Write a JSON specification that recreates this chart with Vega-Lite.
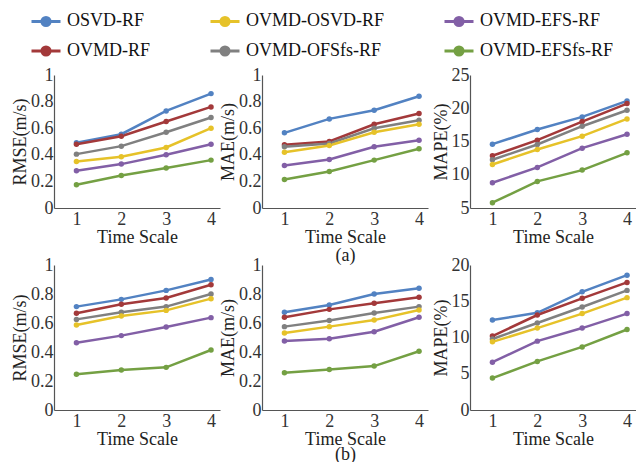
{
  "$schema": "https://vega.github.io/schema/vega-lite/v6.json",
  "padding": {"left": 11, "top": 5, "right": 0, "bottom": 0},
  "bounds": "flush",
  "align": "each",
  "columns": 3,
  "spacing": {"row": 57, "column": 42},
  "config": {
    "view": {"stroke": null},
    "font": "Liberation Serif",
    "axis": {
      "labelFont": "Liberation Serif", "labelFontSize": 18, "labelColor": "#333",
      "titleFont": "Liberation Serif", "titleFontSize": 18, "titleFontWeight": "normal", "titleColor": "#222",
      "domainColor": "#555", "domainWidth": 1.2, "grid": false, "ticks": false,
      "labelFlush": false, "labelPadding": 1, "titlePadding": 1
    },
    "axisX": {"labelPadding": 2, "titlePadding": 0, "titleLineHeight": 18},
    "legend": {"title": null, "orient": "none", "legendX": -24, "legendY": -70, "columns": 3, "direction": "horizontal", "columnPadding": 53, "rowPadding": 3, "padding": 0,
      "symbolType": "M-1,0L1,0M-0.28,0A0.28,0.28,0,1,1,0.28,0A0.28,0.28,0,1,1,-0.28,0Z", "symbolSize": 841, "symbolStrokeWidth": 3,
      "labelFont": "Liberation Serif", "labelFontSize": 18, "labelColor": "#111", "labelOffset": 5}
  },
  "datasets": {
    "d": [
      {"p":"RMSE_a","m":"OSVD-RF","t":1,"v":0.49},{"p":"RMSE_a","m":"OSVD-RF","t":2,"v":0.555},{"p":"RMSE_a","m":"OSVD-RF","t":3,"v":0.73},{"p":"RMSE_a","m":"OSVD-RF","t":4,"v":0.86},
      {"p":"RMSE_a","m":"OVMD-RF","t":1,"v":0.48},{"p":"RMSE_a","m":"OVMD-RF","t":2,"v":0.54},{"p":"RMSE_a","m":"OVMD-RF","t":3,"v":0.65},{"p":"RMSE_a","m":"OVMD-RF","t":4,"v":0.76},
      {"p":"RMSE_a","m":"OVMD-OFSfs-RF","t":1,"v":0.405},{"p":"RMSE_a","m":"OVMD-OFSfs-RF","t":2,"v":0.465},{"p":"RMSE_a","m":"OVMD-OFSfs-RF","t":3,"v":0.57},{"p":"RMSE_a","m":"OVMD-OFSfs-RF","t":4,"v":0.68},
      {"p":"RMSE_a","m":"OVMD-OSVD-RF","t":1,"v":0.35},{"p":"RMSE_a","m":"OVMD-OSVD-RF","t":2,"v":0.385},{"p":"RMSE_a","m":"OVMD-OSVD-RF","t":3,"v":0.455},{"p":"RMSE_a","m":"OVMD-OSVD-RF","t":4,"v":0.6},
      {"p":"RMSE_a","m":"OVMD-EFS-RF","t":1,"v":0.28},{"p":"RMSE_a","m":"OVMD-EFS-RF","t":2,"v":0.33},{"p":"RMSE_a","m":"OVMD-EFS-RF","t":3,"v":0.4},{"p":"RMSE_a","m":"OVMD-EFS-RF","t":4,"v":0.48},
      {"p":"RMSE_a","m":"OVMD-EFSfs-RF","t":1,"v":0.175},{"p":"RMSE_a","m":"OVMD-EFSfs-RF","t":2,"v":0.245},{"p":"RMSE_a","m":"OVMD-EFSfs-RF","t":3,"v":0.3},{"p":"RMSE_a","m":"OVMD-EFSfs-RF","t":4,"v":0.36},

      {"p":"MAE_a","m":"OSVD-RF","t":1,"v":0.565},{"p":"MAE_a","m":"OSVD-RF","t":2,"v":0.67},{"p":"MAE_a","m":"OSVD-RF","t":3,"v":0.735},{"p":"MAE_a","m":"OSVD-RF","t":4,"v":0.84},
      {"p":"MAE_a","m":"OVMD-RF","t":1,"v":0.475},{"p":"MAE_a","m":"OVMD-RF","t":2,"v":0.5},{"p":"MAE_a","m":"OVMD-RF","t":3,"v":0.63},{"p":"MAE_a","m":"OVMD-RF","t":4,"v":0.71},
      {"p":"MAE_a","m":"OVMD-OFSfs-RF","t":1,"v":0.46},{"p":"MAE_a","m":"OVMD-OFSfs-RF","t":2,"v":0.485},{"p":"MAE_a","m":"OVMD-OFSfs-RF","t":3,"v":0.6},{"p":"MAE_a","m":"OVMD-OFSfs-RF","t":4,"v":0.66},
      {"p":"MAE_a","m":"OVMD-OSVD-RF","t":1,"v":0.42},{"p":"MAE_a","m":"OVMD-OSVD-RF","t":2,"v":0.47},{"p":"MAE_a","m":"OVMD-OSVD-RF","t":3,"v":0.57},{"p":"MAE_a","m":"OVMD-OSVD-RF","t":4,"v":0.63},
      {"p":"MAE_a","m":"OVMD-EFS-RF","t":1,"v":0.32},{"p":"MAE_a","m":"OVMD-EFS-RF","t":2,"v":0.365},{"p":"MAE_a","m":"OVMD-EFS-RF","t":3,"v":0.46},{"p":"MAE_a","m":"OVMD-EFS-RF","t":4,"v":0.51},
      {"p":"MAE_a","m":"OVMD-EFSfs-RF","t":1,"v":0.215},{"p":"MAE_a","m":"OVMD-EFSfs-RF","t":2,"v":0.275},{"p":"MAE_a","m":"OVMD-EFSfs-RF","t":3,"v":0.36},{"p":"MAE_a","m":"OVMD-EFSfs-RF","t":4,"v":0.445},

      {"p":"MAPE_a","m":"OSVD-RF","t":1,"v":14.6},{"p":"MAPE_a","m":"OSVD-RF","t":2,"v":16.8},{"p":"MAPE_a","m":"OSVD-RF","t":3,"v":18.7},{"p":"MAPE_a","m":"OSVD-RF","t":4,"v":21.1},
      {"p":"MAPE_a","m":"OVMD-RF","t":1,"v":12.85},{"p":"MAPE_a","m":"OVMD-RF","t":2,"v":15.2},{"p":"MAPE_a","m":"OVMD-RF","t":3,"v":18.0},{"p":"MAPE_a","m":"OVMD-RF","t":4,"v":20.7},
      {"p":"MAPE_a","m":"OVMD-OFSfs-RF","t":1,"v":12.25},{"p":"MAPE_a","m":"OVMD-OFSfs-RF","t":2,"v":14.55},{"p":"MAPE_a","m":"OVMD-OFSfs-RF","t":3,"v":17.3},{"p":"MAPE_a","m":"OVMD-OFSfs-RF","t":4,"v":19.7},
      {"p":"MAPE_a","m":"OVMD-OSVD-RF","t":1,"v":11.55},{"p":"MAPE_a","m":"OVMD-OSVD-RF","t":2,"v":13.8},{"p":"MAPE_a","m":"OVMD-OSVD-RF","t":3,"v":15.8},{"p":"MAPE_a","m":"OVMD-OSVD-RF","t":4,"v":18.4},
      {"p":"MAPE_a","m":"OVMD-EFS-RF","t":1,"v":8.8},{"p":"MAPE_a","m":"OVMD-EFS-RF","t":2,"v":11.1},{"p":"MAPE_a","m":"OVMD-EFS-RF","t":3,"v":14.0},{"p":"MAPE_a","m":"OVMD-EFS-RF","t":4,"v":16.1},
      {"p":"MAPE_a","m":"OVMD-EFSfs-RF","t":1,"v":5.8},{"p":"MAPE_a","m":"OVMD-EFSfs-RF","t":2,"v":9.0},{"p":"MAPE_a","m":"OVMD-EFSfs-RF","t":3,"v":10.7},{"p":"MAPE_a","m":"OVMD-EFSfs-RF","t":4,"v":13.3},

      {"p":"RMSE_b","m":"OSVD-RF","t":1,"v":0.713},{"p":"RMSE_b","m":"OSVD-RF","t":2,"v":0.763},{"p":"RMSE_b","m":"OSVD-RF","t":3,"v":0.825},{"p":"RMSE_b","m":"OSVD-RF","t":4,"v":0.9},
      {"p":"RMSE_b","m":"OVMD-RF","t":1,"v":0.667},{"p":"RMSE_b","m":"OVMD-RF","t":2,"v":0.729},{"p":"RMSE_b","m":"OVMD-RF","t":3,"v":0.772},{"p":"RMSE_b","m":"OVMD-RF","t":4,"v":0.864},
      {"p":"RMSE_b","m":"OVMD-OFSfs-RF","t":1,"v":0.625},{"p":"RMSE_b","m":"OVMD-OFSfs-RF","t":2,"v":0.674},{"p":"RMSE_b","m":"OVMD-OFSfs-RF","t":3,"v":0.713},{"p":"RMSE_b","m":"OVMD-OFSfs-RF","t":4,"v":0.8},
      {"p":"RMSE_b","m":"OVMD-OSVD-RF","t":1,"v":0.586},{"p":"RMSE_b","m":"OVMD-OSVD-RF","t":2,"v":0.648},{"p":"RMSE_b","m":"OVMD-OSVD-RF","t":3,"v":0.687},{"p":"RMSE_b","m":"OVMD-OSVD-RF","t":4,"v":0.768},
      {"p":"RMSE_b","m":"OVMD-EFS-RF","t":1,"v":0.464},{"p":"RMSE_b","m":"OVMD-EFS-RF","t":2,"v":0.513},{"p":"RMSE_b","m":"OVMD-EFS-RF","t":3,"v":0.572},{"p":"RMSE_b","m":"OVMD-EFS-RF","t":4,"v":0.637},
      {"p":"RMSE_b","m":"OVMD-EFSfs-RF","t":1,"v":0.246},{"p":"RMSE_b","m":"OVMD-EFSfs-RF","t":2,"v":0.276},{"p":"RMSE_b","m":"OVMD-EFSfs-RF","t":3,"v":0.294},{"p":"RMSE_b","m":"OVMD-EFSfs-RF","t":4,"v":0.414},

      {"p":"MAE_b","m":"OSVD-RF","t":1,"v":0.674},{"p":"MAE_b","m":"OSVD-RF","t":2,"v":0.724},{"p":"MAE_b","m":"OSVD-RF","t":3,"v":0.8},{"p":"MAE_b","m":"OSVD-RF","t":4,"v":0.84},
      {"p":"MAE_b","m":"OVMD-RF","t":1,"v":0.64},{"p":"MAE_b","m":"OVMD-RF","t":2,"v":0.694},{"p":"MAE_b","m":"OVMD-RF","t":3,"v":0.736},{"p":"MAE_b","m":"OVMD-RF","t":4,"v":0.777},
      {"p":"MAE_b","m":"OVMD-OFSfs-RF","t":1,"v":0.575},{"p":"MAE_b","m":"OVMD-OFSfs-RF","t":2,"v":0.618},{"p":"MAE_b","m":"OVMD-OFSfs-RF","t":3,"v":0.669},{"p":"MAE_b","m":"OVMD-OFSfs-RF","t":4,"v":0.713},
      {"p":"MAE_b","m":"OVMD-OSVD-RF","t":1,"v":0.531},{"p":"MAE_b","m":"OVMD-OSVD-RF","t":2,"v":0.575},{"p":"MAE_b","m":"OVMD-OSVD-RF","t":3,"v":0.62},{"p":"MAE_b","m":"OVMD-OSVD-RF","t":4,"v":0.69},
      {"p":"MAE_b","m":"OVMD-EFS-RF","t":1,"v":0.476},{"p":"MAE_b","m":"OVMD-EFS-RF","t":2,"v":0.492},{"p":"MAE_b","m":"OVMD-EFS-RF","t":3,"v":0.54},{"p":"MAE_b","m":"OVMD-EFS-RF","t":4,"v":0.64},
      {"p":"MAE_b","m":"OVMD-EFSfs-RF","t":1,"v":0.257},{"p":"MAE_b","m":"OVMD-EFSfs-RF","t":2,"v":0.28},{"p":"MAE_b","m":"OVMD-EFSfs-RF","t":3,"v":0.303},{"p":"MAE_b","m":"OVMD-EFSfs-RF","t":4,"v":0.405},

      {"p":"MAPE_b","m":"OSVD-RF","t":1,"v":12.4},{"p":"MAPE_b","m":"OSVD-RF","t":2,"v":13.4},{"p":"MAPE_b","m":"OSVD-RF","t":3,"v":16.3},{"p":"MAPE_b","m":"OSVD-RF","t":4,"v":18.6},
      {"p":"MAPE_b","m":"OVMD-RF","t":1,"v":10.2},{"p":"MAPE_b","m":"OVMD-RF","t":2,"v":13.1},{"p":"MAPE_b","m":"OVMD-RF","t":3,"v":15.4},{"p":"MAPE_b","m":"OVMD-RF","t":4,"v":17.6},
      {"p":"MAPE_b","m":"OVMD-OFSfs-RF","t":1,"v":9.8},{"p":"MAPE_b","m":"OVMD-OFSfs-RF","t":2,"v":12.0},{"p":"MAPE_b","m":"OVMD-OFSfs-RF","t":3,"v":14.2},{"p":"MAPE_b","m":"OVMD-OFSfs-RF","t":4,"v":16.5},
      {"p":"MAPE_b","m":"OVMD-OSVD-RF","t":1,"v":9.4},{"p":"MAPE_b","m":"OVMD-OSVD-RF","t":2,"v":11.3},{"p":"MAPE_b","m":"OVMD-OSVD-RF","t":3,"v":13.3},{"p":"MAPE_b","m":"OVMD-OSVD-RF","t":4,"v":15.5},
      {"p":"MAPE_b","m":"OVMD-EFS-RF","t":1,"v":6.6},{"p":"MAPE_b","m":"OVMD-EFS-RF","t":2,"v":9.5},{"p":"MAPE_b","m":"OVMD-EFS-RF","t":3,"v":11.3},{"p":"MAPE_b","m":"OVMD-EFS-RF","t":4,"v":13.3},
      {"p":"MAPE_b","m":"OVMD-EFSfs-RF","t":1,"v":4.4},{"p":"MAPE_b","m":"OVMD-EFSfs-RF","t":2,"v":6.7},{"p":"MAPE_b","m":"OVMD-EFSfs-RF","t":3,"v":8.7},{"p":"MAPE_b","m":"OVMD-EFSfs-RF","t":4,"v":11.1}
    ]
  },
  "concat": [
    {
      "width": 166, "height": 133,
      "data": {"name": "d"},
      "transform": [{"filter": "datum.p === 'RMSE_a'"}],
      "encoding": {
        "x": {"field": "t", "type": "quantitative", "scale": {"domain": [0.5, 4.2]}, "axis": {"values": [1,2,3,4], "format": "d", "title": "Time Scale"}},
        "y": {"field": "v", "type": "quantitative", "scale": {"domain": [0, 1]}, "axis": {"values": [0,0.2,0.4,0.6,0.8,1], "format": ".1~f", "title": "RMSE(m/s)"}},
        "color": {"field": "m", "type": "nominal",
          "scale": {"domain": ["OSVD-RF","OVMD-OSVD-RF","OVMD-EFS-RF","OVMD-RF","OVMD-OFSfs-RF","OVMD-EFSfs-RF"], "range": ["#5282c2","#e6c229","#825fa6","#a3393a","#808080","#74a043"]},
          "legend": {"encode": {"symbols": {"update": {"fill": {"scale": "color", "field": "value"}, "stroke": {"scale": "color", "field": "value"}, "opacity": {"value": 1}}}}}}
      },
      "layer": [
        {"mark": {"type": "line", "strokeWidth": 2.5}},
        {"mark": {"type": "point", "filled": true, "size": 30, "opacity": 1}}
      ]
    },
    {
      "width": 166, "height": 133,
      "data": {"name": "d"},
      "transform": [{"filter": "datum.p === 'MAE_a'"}],
      "encoding": {
        "x": {"field": "t", "type": "quantitative", "scale": {"domain": [0.5, 4.2]}, "axis": {"values": [1,2,3,4], "format": "d", "title": ["Time Scale", "(a)"]}},
        "y": {"field": "v", "type": "quantitative", "scale": {"domain": [0, 1]}, "axis": {"values": [0,0.2,0.4,0.6,0.8,1], "format": ".1~f", "title": "MAE(m/s)"}},
        "color": {"field": "m", "type": "nominal",
          "scale": {"domain": ["OSVD-RF","OVMD-OSVD-RF","OVMD-EFS-RF","OVMD-RF","OVMD-OFSfs-RF","OVMD-EFSfs-RF"], "range": ["#5282c2","#e6c229","#825fa6","#a3393a","#808080","#74a043"]},
          "legend": {"encode": {"symbols": {"update": {"fill": {"scale": "color", "field": "value"}, "stroke": {"scale": "color", "field": "value"}, "opacity": {"value": 1}}}}}}
      },
      "layer": [
        {"mark": {"type": "line", "strokeWidth": 2.5}},
        {"mark": {"type": "point", "filled": true, "size": 30, "opacity": 1}}
      ]
    },
    {
      "width": 166, "height": 133,
      "data": {"name": "d"},
      "transform": [{"filter": "datum.p === 'MAPE_a'"}],
      "encoding": {
        "x": {"field": "t", "type": "quantitative", "scale": {"domain": [0.5, 4.2]}, "axis": {"values": [1,2,3,4], "format": "d", "title": "Time Scale"}},
        "y": {"field": "v", "type": "quantitative", "scale": {"domain": [5, 25]}, "axis": {"values": [5,10,15,20,25], "format": "d", "title": "MAPE(%)"}},
        "color": {"field": "m", "type": "nominal",
          "scale": {"domain": ["OSVD-RF","OVMD-OSVD-RF","OVMD-EFS-RF","OVMD-RF","OVMD-OFSfs-RF","OVMD-EFSfs-RF"], "range": ["#5282c2","#e6c229","#825fa6","#a3393a","#808080","#74a043"]},
          "legend": {"encode": {"symbols": {"update": {"fill": {"scale": "color", "field": "value"}, "stroke": {"scale": "color", "field": "value"}, "opacity": {"value": 1}}}}}}
      },
      "layer": [
        {"mark": {"type": "line", "strokeWidth": 2.5}},
        {"mark": {"type": "point", "filled": true, "size": 30, "opacity": 1}}
      ]
    },
    {
      "width": 166, "height": 145,
      "data": {"name": "d"},
      "transform": [{"filter": "datum.p === 'RMSE_b'"}],
      "encoding": {
        "x": {"field": "t", "type": "quantitative", "scale": {"domain": [0.5, 4.2]}, "axis": {"values": [1,2,3,4], "format": "d", "title": "Time Scale"}},
        "y": {"field": "v", "type": "quantitative", "scale": {"domain": [0, 1]}, "axis": {"values": [0,0.2,0.4,0.6,0.8,1], "format": ".1~f", "title": "RMSE(m/s)"}},
        "color": {"field": "m", "type": "nominal",
          "scale": {"domain": ["OSVD-RF","OVMD-OSVD-RF","OVMD-EFS-RF","OVMD-RF","OVMD-OFSfs-RF","OVMD-EFSfs-RF"], "range": ["#5282c2","#e6c229","#825fa6","#a3393a","#808080","#74a043"]},
          "legend": {"encode": {"symbols": {"update": {"fill": {"scale": "color", "field": "value"}, "stroke": {"scale": "color", "field": "value"}, "opacity": {"value": 1}}}}}}
      },
      "layer": [
        {"mark": {"type": "line", "strokeWidth": 2.5}},
        {"mark": {"type": "point", "filled": true, "size": 30, "opacity": 1}}
      ]
    },
    {
      "width": 166, "height": 145,
      "data": {"name": "d"},
      "transform": [{"filter": "datum.p === 'MAE_b'"}],
      "encoding": {
        "x": {"field": "t", "type": "quantitative", "scale": {"domain": [0.5, 4.2]}, "axis": {"values": [1,2,3,4], "format": "d", "title": ["Time Scale", "(b)"], "titleLineHeight": 15}},
        "y": {"field": "v", "type": "quantitative", "scale": {"domain": [0, 1]}, "axis": {"values": [0,0.2,0.4,0.6,0.8,1], "format": ".1~f", "title": "MAE(m/s)"}},
        "color": {"field": "m", "type": "nominal",
          "scale": {"domain": ["OSVD-RF","OVMD-OSVD-RF","OVMD-EFS-RF","OVMD-RF","OVMD-OFSfs-RF","OVMD-EFSfs-RF"], "range": ["#5282c2","#e6c229","#825fa6","#a3393a","#808080","#74a043"]},
          "legend": {"encode": {"symbols": {"update": {"fill": {"scale": "color", "field": "value"}, "stroke": {"scale": "color", "field": "value"}, "opacity": {"value": 1}}}}}}
      },
      "layer": [
        {"mark": {"type": "line", "strokeWidth": 2.5}},
        {"mark": {"type": "point", "filled": true, "size": 30, "opacity": 1}}
      ]
    },
    {
      "width": 166, "height": 145,
      "data": {"name": "d"},
      "transform": [{"filter": "datum.p === 'MAPE_b'"}],
      "encoding": {
        "x": {"field": "t", "type": "quantitative", "scale": {"domain": [0.5, 4.2]}, "axis": {"values": [1,2,3,4], "format": "d", "title": "Time Scale"}},
        "y": {"field": "v", "type": "quantitative", "scale": {"domain": [0, 20]}, "axis": {"values": [0,5,10,15,20], "format": "d", "title": "MAPE(%)"}},
        "color": {"field": "m", "type": "nominal",
          "scale": {"domain": ["OSVD-RF","OVMD-OSVD-RF","OVMD-EFS-RF","OVMD-RF","OVMD-OFSfs-RF","OVMD-EFSfs-RF"], "range": ["#5282c2","#e6c229","#825fa6","#a3393a","#808080","#74a043"]},
          "legend": {"encode": {"symbols": {"update": {"fill": {"scale": "color", "field": "value"}, "stroke": {"scale": "color", "field": "value"}, "opacity": {"value": 1}}}}}}
      },
      "layer": [
        {"mark": {"type": "line", "strokeWidth": 2.5}},
        {"mark": {"type": "point", "filled": true, "size": 30, "opacity": 1}}
      ]
    }
  ]
}
